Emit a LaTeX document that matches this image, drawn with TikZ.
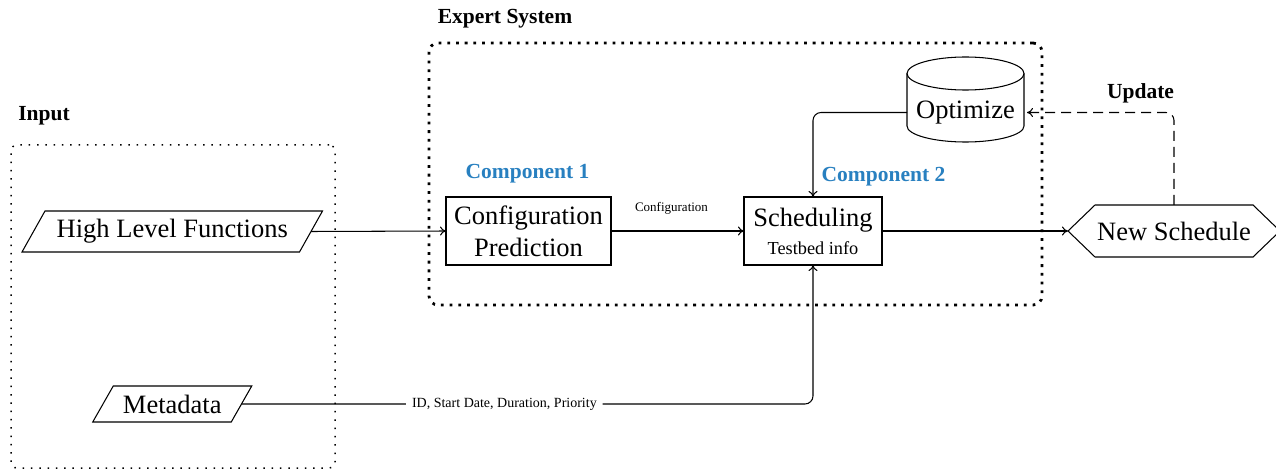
\documentclass[tikz,border=0pt]{standalone}
\usepackage{fontspec}
\setmainfont{Liberation Serif}
\usetikzlibrary{arrows.meta}
\definecolor{compblue}{RGB}{40,128,192}
\begin{document}
\begin{tikzpicture}[x=1pt,y=-1pt,
  every node/.style={inner sep=0pt, outer sep=0pt},
  thinline/.style={line width=1.05pt},
  conn/.style={line width=1.05pt, -{To[length=6pt,width=9pt]}, rounded corners=8pt},
  dashconn/.style={conn, dash pattern=on 10pt off 6pt},
  bigtxt/.style={font=\fontsize{26.5}{32}\selectfont},
  procbox/.style={draw, line width=1.05pt, minimum height=68pt, align=center, bigtxt},
  grplbl/.style={font=\fontsize{21.5}{24}\selectfont\bfseries},
  complbl/.style={grplbl, text=compblue},
  smalllbl/.style={font=\fontsize{13}{15}\selectfont},
  idlbl/.style={font=\fontsize{14}{16}\selectfont, fill=white, inner xsep=6pt, inner ysep=2pt},
  inputgroup/.style={draw, line width=1.5pt, dash pattern=on 1.5pt off 6.8pt, rounded corners=6pt},
  expertgroup/.style={draw, line width=2.8pt, dash pattern=on 2.8pt off 5.9pt, rounded corners=9pt}
]
\useasboundingbox (0,0) rectangle (1276,470);

% group frames
\node[inputgroup, minimum width=324pt, minimum height=323pt] (inputbox) at (173,306.5) {};
\node[expertgroup, minimum width=613pt, minimum height=262pt] (expertbox) at (735.5,174) {};

% group labels
\node[grplbl] (inputlbl) at (44,116) {Input};
\node[grplbl] (expertlbl) at (505,19) {Expert System};
\node[grplbl] (updatelbl) at (1140.5,93) {Update};
\node[complbl] (comp1) at (527.5,174) {Component 1};
\node[complbl] (comp2) at (883.5,177) {Component 2};

% input parallelograms
\node[bigtxt, minimum width=277.5pt, minimum height=41pt] (hlf) at (172.25,231.5) {High Level Functions};
\draw[thinline] ([xshift=-11.5pt]hlf.south west) -- ([xshift=11.5pt]hlf.north west)
  -- ([xshift=11.5pt]hlf.north east) -- ([xshift=-11.5pt]hlf.south east) -- cycle;
\node[bigtxt, minimum width=138.5pt, minimum height=36pt] (meta) at (172.25,404) {Metadata};
\draw[thinline] ([xshift=-10.25pt]meta.south west) -- ([xshift=10.25pt]meta.north west)
  -- ([xshift=10.25pt]meta.north east) -- ([xshift=-10.25pt]meta.south east) -- cycle;

% process boxes
\node[procbox, minimum width=165pt] (conf) at (528.5,231) {Configuration\\Prediction};
\node[procbox, minimum width=138pt] (sched) at (813,231) {Scheduling\\[-4pt]{\fontsize{18.3}{22}\selectfont Testbed info}};

% optimize cylinder
\node[bigtxt, minimum width=117pt, minimum height=30pt] (opt) at (965.5,112.5) {Optimize};
\draw[thinline] (907,73.5) -- (907,126) arc[start angle=180, end angle=0, x radius=58.5, y radius=16] -- (1024,73.5);
\draw[thinline] (965.5,73.5) ellipse[x radius=58.5, y radius=16.5];

% new schedule hexagon
\node[bigtxt, minimum width=212pt, minimum height=52pt] (ns) at (1174,231) {New Schedule};
\draw[thinline] (ns.west) -- ([xshift=27pt]ns.north west) -- ([xshift=-27pt]ns.north east)
  -- (ns.east) -- ([xshift=-27pt]ns.south east) -- ([xshift=27pt]ns.south west) -- cycle;

% connectors
\draw[conn] (hlf.east) -- (conf.west);
\draw[conn] (conf.east) -- node[smalllbl, midway, xshift=-6pt, yshift=23pt] (cfglbl) {Configuration} (sched.west);
\draw[conn] (sched.east) -- (ns.west);
\draw[conn] (opt.west) -| (sched.north);
\draw[dashconn] (ns.north) |- ([xshift=3pt]opt.east);
\draw[conn] (meta.east) -| node[idlbl, pos=0.23] (idlabel) {ID, Start Date, Duration, Priority} (sched.south);
\end{tikzpicture}
\end{document}
